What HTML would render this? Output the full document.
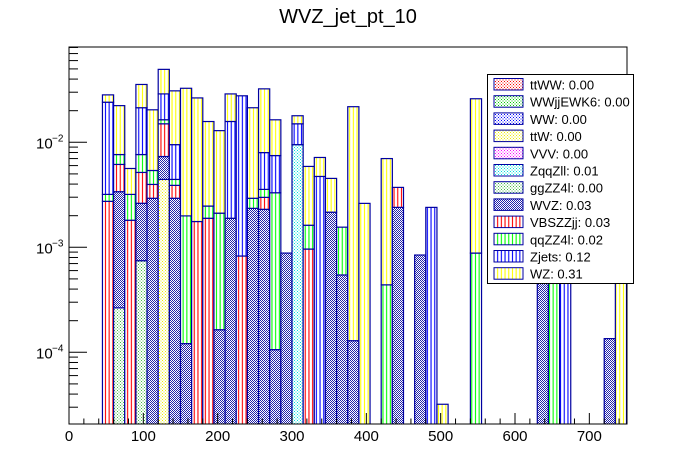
<!DOCTYPE html>
<html><head><meta charset="utf-8"><style>
html,body{margin:0;padding:0;background:#fff;}
svg{display:block;font-family:"Liberation Sans",Arial,sans-serif;}
</style></head><body>
<svg id="chart" width="696" height="472" viewBox="0 0 696 472" xmlns="http://www.w3.org/2000/svg">
<defs>
<pattern id="p-cross" width="2" height="2" patternUnits="userSpaceOnUse"><rect width="2" height="2" fill="#fff"/><rect width="1" height="1" fill="#2222aa"/><rect x="1" y="1" width="1" height="1" fill="#2222aa"/></pattern>
<pattern id="p-red" width="3" height="3" patternUnits="userSpaceOnUse"><rect width="3" height="3" fill="#fff"/><rect width="1" height="1" fill="#f00"/><rect x="1.5" y="1.5" width="1" height="1" fill="#f00"/></pattern>
<pattern id="p-green" width="3" height="3" patternUnits="userSpaceOnUse"><rect width="3" height="3" fill="#fff"/><rect width="1" height="1" fill="#0c0"/><rect x="1.5" y="1.5" width="1" height="1" fill="#0c0"/></pattern>
<pattern id="p-blue" width="3" height="3" patternUnits="userSpaceOnUse"><rect width="3" height="3" fill="#fff"/><rect width="1" height="1" fill="#00f"/><rect x="1.5" y="1.5" width="1" height="1" fill="#00f"/></pattern>
<pattern id="p-yellow" width="3" height="3" patternUnits="userSpaceOnUse"><rect width="3" height="3" fill="#fff"/><rect width="1" height="1" fill="#ee0"/><rect x="1.5" y="1.5" width="1" height="1" fill="#ee0"/></pattern>
<pattern id="p-magenta" width="3" height="3" patternUnits="userSpaceOnUse"><rect width="3" height="3" fill="#fff"/><rect width="1" height="1" fill="#f0f"/><rect x="1.5" y="1.5" width="1" height="1" fill="#f0f"/></pattern>
<pattern id="p-cyan" width="3" height="3" patternUnits="userSpaceOnUse"><rect width="3" height="3" fill="#fff"/><rect width="1" height="1" fill="#0dd"/><rect x="1.5" y="1.5" width="1" height="1" fill="#0dd"/></pattern>
<pattern id="p-ggreen" width="3" height="3" patternUnits="userSpaceOnUse"><rect width="3" height="3" fill="#fff"/><rect width="1" height="1" fill="#4b4"/><rect x="1.5" y="1.5" width="1" height="1" fill="#4b4"/></pattern>
<pattern id="s-red" width="3.7" height="4" patternUnits="userSpaceOnUse"><rect width="3.7" height="4" fill="#fff"/><rect x="1.3" width="1.1" height="4" fill="#f00"/></pattern>
<pattern id="s-green" width="3.7" height="4" patternUnits="userSpaceOnUse"><rect width="3.7" height="4" fill="#fff"/><rect x="1.3" width="1.1" height="4" fill="#0f0"/></pattern>
<pattern id="s-blue" width="3.7" height="4" patternUnits="userSpaceOnUse"><rect width="3.7" height="4" fill="#fff"/><rect x="1.3" width="1.1" height="4" fill="#00f"/></pattern>
<pattern id="s-yellow" width="3.7" height="4" patternUnits="userSpaceOnUse"><rect width="3.7" height="4" fill="#fff"/><rect x="1.3" width="1.1" height="4" fill="#ff0"/></pattern>
<clipPath id="frame-clip"><rect x="69" y="47" width="558" height="377"/></clipPath>
</defs>
<text x="348" y="23" font-size="20" text-anchor="middle">WVZ_jet_pt_10</text>
<g id="bars" clip-path="url(#frame-clip)"></g>
<rect x="69" y="47" width="558" height="377" fill="none" stroke="#000" stroke-width="1"/>
<g id="axes"></g>
<g id="legend"></g>
</svg>
<script>
// Bin edges: 15 GeV bins from 0 to 750
const binWidth = 15;
const nBins = 50;
// Series (stack order bottom -> top); values by bin index
const seriesNames = ["ttWW","WWjjEWK6","WW","ttW","VVV","ZqqZll","ggZZ4l","WVZ","VBSZZjj","qqZZ4l","Zjets","WZ"];
const legendValues = ["0.00","0.00","0.00","0.00","0.00","0.01","0.00","0.03","0.03","0.02","0.12","0.31"];
const ttWW = {};
const WWjjEWK6 = {};
const WW = {};
const ttW = {8:0.00443};
const VVV = {};
const ZqqZll = {20:0.0095};
const ggZZ4l = {4:0.000265, 6:0.000745};
const WVZ = {4:0.00312,6:0.00188,7:0.00293,8:0.00289,9:0.00293,10:0.000121,13:0.000164,14:0.00189,16:0.00235,17:0.0023,18:0.000106,19:0.000881,23:0.00216,24:0.000545,25:0.000129,29:0.0024,31:0.000844,42:0.004,48:0.000135};
const VBSZZjj = {3:0.00274,4:0.00277,5:0.00181,6:0.00254,7:0.00104,8:0.00768,9:0.00096,11:0.00176,12:0.00189,15:0.000826,17:0.00069,21:0.000962,29:0.00132};
const qqZZ4l = {3:0.00045,4:0.00149,5:0.00138,6:0.00248,7:0.00142,8:0.0014,9:0.00054,10:0.00187,12:0.00058,13:0.00195,16:0.00058,17:0.00057,18:0.0032,21:0.00066,24:0.00101,28:0.000439,36:0.000881,43:0.005};
const Zjets = {3:0.0209,6:0.0137,8:0.0125,9:0.00507,14:0.0139,15:0.0269,17:0.00442,18:0.00417,20:0.0055,22:0.00473,32:0.0024,44:0.004};
const WZ = {3:0.0042,4:0.0147,5:0.00244,6:0.0142,7:0.015,8:0.0206,9:0.0214,10:0.0307,11:0.0247,12:0.0133,13:0.0108,14:0.0131,16:0.0184,17:0.0243,18:0.0089,20:0.0029,21:0.00427,22:0.00244,23:0.00237,25:0.0217,26:0.00262,28:0.00656,33:0.000032,36:0.0251,49:0.005};
const xTickLabels = ["0","100","200","300","400","500","600","700"];
const yDecades = [-4,-3,-2];

const seriesData = [ttWW,WWjjEWK6,WW,ttW,VVV,ZqqZll,ggZZ4l,WVZ,VBSZZjj,qqZZ4l,Zjets,WZ];
const seriesFill = ["url(#p-red)","url(#p-green)","url(#p-blue)","url(#p-yellow)","url(#p-magenta)","url(#p-cyan)","url(#p-ggreen)","url(#p-cross)","url(#s-red)","url(#s-green)","url(#s-blue)","url(#s-yellow)"];
const NS = "http://www.w3.org/2000/svg";
const X0 = 69, X1 = 626.5, XMIN = 0, XMAX = 750;
const Y_REF = 142.3, DEC = 105, YBOT = 424;
function xs(v){ return X0 + (v - XMIN) / (XMAX - XMIN) * (X1 - X0); }
function ys(v){ return Y_REF - (Math.log10(v) + 2) * DEC; }
function mk(tag, attrs, parent){ const e = document.createElementNS(NS, tag); for (const k in attrs) e.setAttribute(k, attrs[k]); parent.appendChild(e); return e; }

const bars = document.getElementById('bars');
for (let b = 0; b < nBins; b++) {
  let cum = 0;
  for (let s = 0; s < seriesData.length; s++) {
    const v = seriesData[s][b];
    if (!v) continue;
    const lo = cum; cum += v;
    const yTop = ys(cum);
    const yLo = lo > 0 ? ys(lo) : YBOT + 5;
    const x = xs(b * binWidth), w = xs((b + 1) * binWidth) - x;
    const r = mk('rect', {x: x, y: yTop, width: w, height: Math.max(0, yLo - yTop), fill: seriesFill[s], stroke: '#0000a0', 'stroke-width': 1.2}, bars);
    
    
  }
}

const axes = document.getElementById('axes');
for (let v = 0; v <= 740; v += 20) {
  const major = v % 100 === 0;
  const t = mk('line', {x1: xs(v), x2: xs(v), y1: YBOT, y2: YBOT - (major ? 11 : 5.5), stroke: '#000', 'stroke-width': 1}, axes);
  
  
}
xTickLabels.forEach(function(lab){
  const t = mk('text', {x: xs(+lab), y: 441, 'font-size': 15, 'text-anchor': 'middle'}, axes);
  t.textContent = lab;
  
  
});
for (let d = -5; d <= -1; d++) {
  for (let m = 1; m <= 9; m++) {
    const v = m * Math.pow(10, d);
    const y = ys(v);
    if (y < 47 || y > YBOT) continue;
    const t = mk('line', {x1: X0, x2: X0 + (m === 1 ? 18 : 9), y1: y, y2: y, stroke: '#000', 'stroke-width': 1}, axes);
    
    
  }
}
yDecades.forEach(function(d){
  const y = ys(Math.pow(10, d));
  const t = mk('text', {x: 36, y: y + 6, 'font-size': 15}, axes);
  t.textContent = '10';
  
  
  const s = mk('text', {x: 52, y: y - 1, 'font-size': 10}, axes);
  s.textContent = '\u2212' + (-d);
  
  
});

const lg = document.getElementById('legend');
const box = mk('rect', {x: 487.5, y: 74.5, width: 146, height: 209, fill: '#fff', stroke: '#000', 'stroke-width': 1}, lg);


seriesNames.forEach(function(n, i){
  const y = 78.5 + i * 17.2;
  const sw = mk('rect', {x: 494, y: y, width: 29, height: 11.5, fill: seriesFill[i], stroke: '#0000a0', 'stroke-width': 1}, lg);
  
  
  const t = mk('text', {x: 530, y: y + 11, 'font-size': 13}, lg);
  t.textContent = n + ': ' + legendValues[i];
  
  
});
</script>
</body></html>
